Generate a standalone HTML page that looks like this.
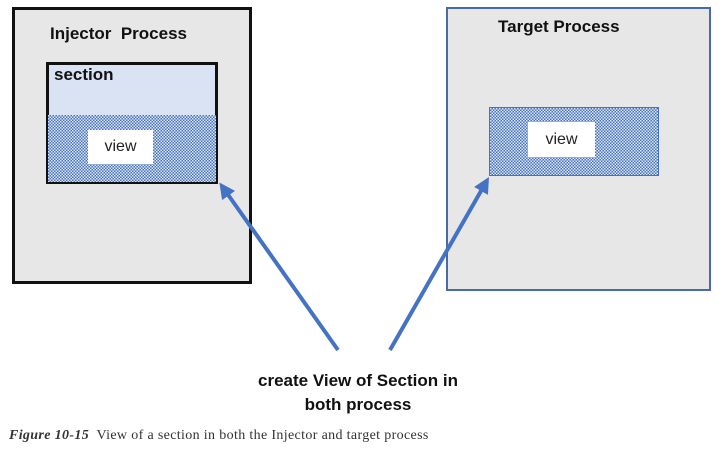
<!DOCTYPE html>
<html><head><style>
body{margin:0;width:724px;height:451px;background:#fff;position:relative;overflow:hidden;font-family:"Liberation Sans",sans-serif}
.a{position:absolute;box-sizing:border-box}
.hatch{background-color:#b4c6e7;background-image:repeating-conic-gradient(#4472c4 0 25%,#dfe7f5 0 50%);background-size:3px 3px}
</style></head><body>
<div class="a" style="left:12px;top:7px;width:240px;height:277px;background:#e7e7e7;border:3px solid #111"></div>
<div class="a" style="left:50px;top:24px;font-weight:bold;font-size:17px;color:#111">Injector&nbsp; Process</div>
<div class="a" style="left:46px;top:62px;width:172px;height:54px;background:#dae3f3;border:3px solid #111;border-bottom:none"></div>
<div class="a" style="left:54px;top:65px;font-weight:bold;font-size:17px;color:#111">section</div>
<div class="a hatch" style="left:46px;top:115px;width:172px;height:69px;border:2px solid #111;border-top:none"></div>
<div class="a" style="left:88px;top:130px;width:65px;height:34px;background:#fff;font-size:16px;text-align:center;line-height:34px;color:#222">view</div>

<div class="a" style="left:446px;top:7px;width:265px;height:284px;background:#e7e7e7;border:2px solid #4a69a8"></div>
<div class="a" style="left:498px;top:17px;font-weight:bold;font-size:17px;color:#111">Target Process</div>
<div class="a hatch" style="left:489px;top:107px;width:170px;height:69px;border:1px solid #4472c4"></div>
<div class="a" style="left:528px;top:122px;width:67px;height:35px;background:#fff;font-size:16px;text-align:center;line-height:35px;color:#222">view</div>

<svg class="a" style="left:0;top:0" width="724" height="451">
<defs><marker id="m" markerWidth="4" markerHeight="4" refX="2" refY="2" orient="auto"><path d="M0,0L4,2L0,4z" fill="#4472c4"/></marker></defs>
<line x1="338" y1="350" x2="224" y2="189" stroke="#4472c4" stroke-width="4" marker-end="url(#m)"/>
<line x1="390" y1="350" x2="485" y2="184" stroke="#4472c4" stroke-width="4" marker-end="url(#m)"/>
</svg>
<div class="a" style="left:200px;top:369px;width:316px;text-align:center;font-weight:bold;font-size:17px;line-height:24px;color:#111">create View of Section in<br>both process</div>
<div class="a" style="left:9px;top:428px;font-family:'Liberation Serif',serif;font-size:14px;letter-spacing:0.35px;color:#333;white-space:nowrap"><b><i>Figure 10-15</i></b>&nbsp; View of a section in both the Injector and target process</div>
</body></html>
